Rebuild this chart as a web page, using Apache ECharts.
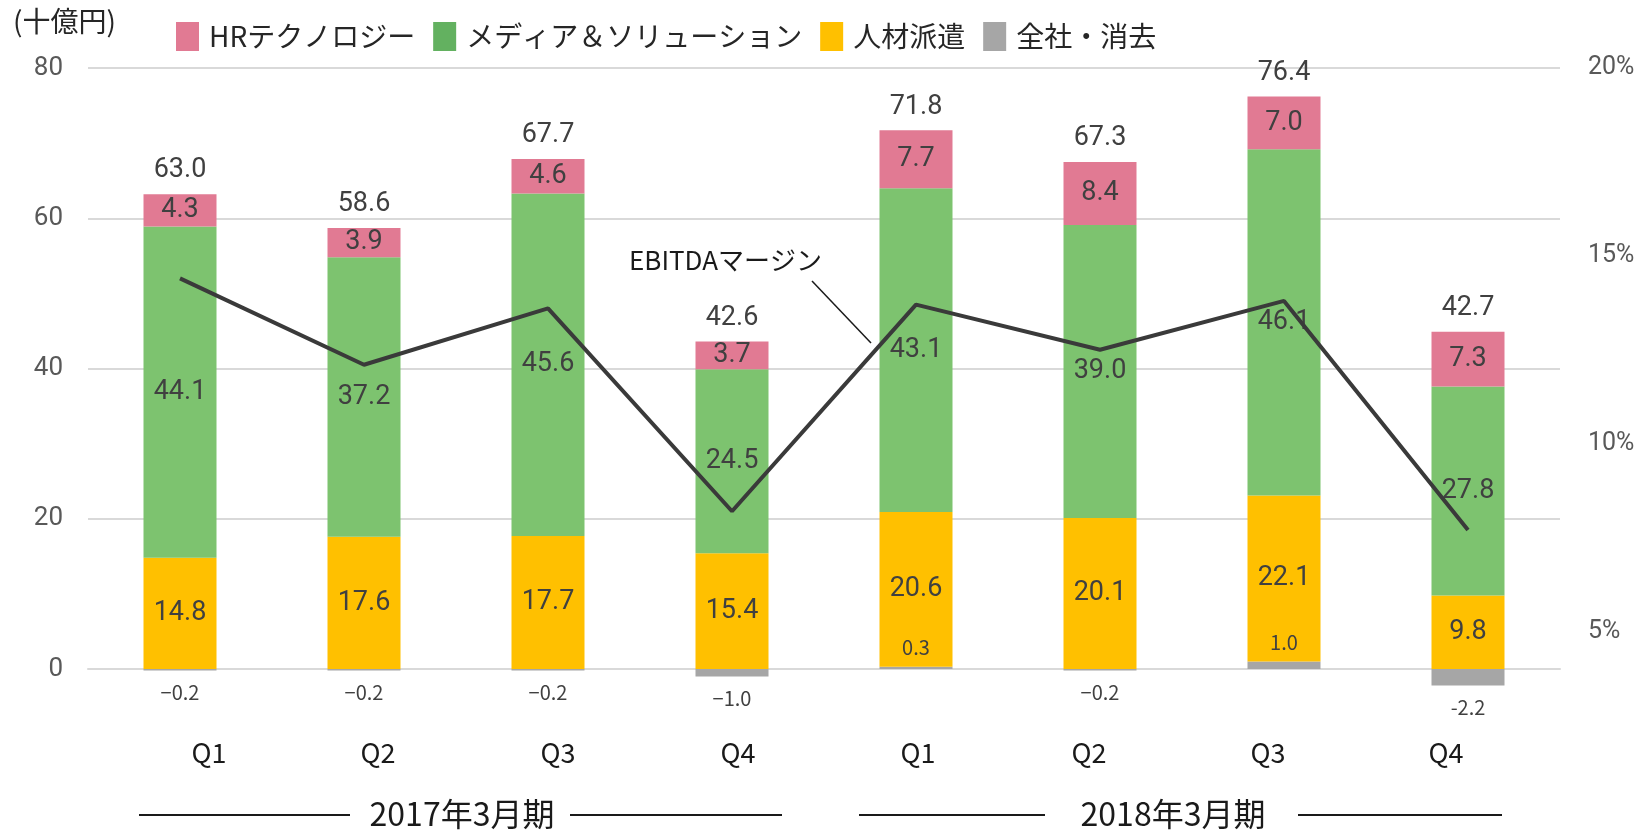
<!DOCTYPE html>
<html>
<head>
<meta charset="utf-8">
<script src="https://cdn.jsdelivr.net/npm/echarts@6/dist/echarts.min.js"></script>
<style>
  html, body { margin: 0; padding: 0; background: #fff; }
  #main { width: 1639px; height: 831px; }
</style>
</head>
<body>
<div id="main"></div>
<script>
  // 四半期
  var quarters = ["Q1", "Q2", "Q3", "Q4", "Q1", "Q2", "Q3", "Q4"];
  var periods = ["2017年3月期", "2018年3月期"];

  // 十億円
  var hrTech = [4.3, 3.9, 4.6, 3.7, 7.7, 8.4, 7.0, 7.3];
  var mediaSol = [44.1, 37.2, 45.6, 24.5, 43.1, 39.0, 46.1, 27.8];
  var staffing = [14.8, 17.6, 17.7, 15.4, 20.6, 20.1, 22.1, 9.8];
  var corporate = [-0.2, -0.2, -0.2, -1.0, 0.3, -0.2, 1.0, -2.2];
  var totals = [63.0, 58.6, 67.7, 42.6, 71.8, 67.3, 76.4, 42.7];

  // EBITDAマージン (%)
  var ebitdaMargin = [14.4, 12.1, 13.6, 8.2, 13.7, 12.5, 13.8, 7.7];

  // ラベルの横ずれ (px)
  var qShift = [29, 14, 10, 6, 2, -11, -16, -22];
  var periodShift = [6, -19];

  var font = "'Noto Sans CJK JP', 'Noto Sans', sans-serif";
  var numFont = "Roboto, 'Noto Sans', sans-serif";

  function shiftRich(shifts, size) {
    var rich = {};
    shifts.forEach(function (s, i) {
      rich["s" + i] = {
        fontSize: size,
        fontFamily: font,
        color: "#1a1a1a",
        padding: s >= 0 ? [0, 0, 0, 2 * s] : [0, -2 * s, 0, 0],
      };
    });
    return rich;
  }

  function shiftFormatter(v, i) {
    return "{s" + i + "|" + v + "}";
  }

  var innerLabel = {
    show: true,
    position: "inside",
    fontSize: 27,
    fontFamily: numFont,
    color: "#404040",
    formatter: function (p) {
      return p.value.toFixed(1);
    },
  };

  var myChart = echarts.init(document.getElementById("main"));

  myChart.setOption({
    backgroundColor: "#ffffff",
    animation: false,
    title: {
      text: "(十億円)",
      left: 8,
      top: 2,
      textStyle: { fontSize: 28, fontWeight: "normal", fontFamily: font, color: "#262626" },
    },
    legend: {
      left: 171,
      top: 17,
      itemWidth: 23,
      itemHeight: 29,
      itemGap: 18,
      icon: "rect",
      textStyle: { fontSize: 28, fontFamily: font, color: "#262626", padding: [0, 0, 0, 5] },
      data: [
        { name: "HRテクノロジー" },
        { name: "メディア＆ソリューション", itemStyle: { color: "#63b160" } },
        { name: "人材派遣" },
        { name: "全社・消去" },
      ],
    },
    grid: { left: 88, right: 79, top: 68, bottom: 162, outerBoundsMode: "none" },
    xAxis: [
      {
        type: "category",
        data: quarters,
        axisLine: { lineStyle: { color: "#d9d9d9", width: 2 } },
        axisTick: { show: false },
        axisLabel: {
          margin: 70,
          fontSize: 27,
          fontFamily: font,
          color: "#1a1a1a",
          formatter: shiftFormatter,
          rich: shiftRich(qShift, 27),
        },
      },
      {
        type: "category",
        position: "bottom",
        data: periods,
        axisLine: { show: false },
        axisTick: { show: false },
        axisLabel: {
          margin: 129,
          fontSize: 32,
          fontFamily: font,
          color: "#1a1a1a",
          formatter: shiftFormatter,
          rich: shiftRich(periodShift, 32),
        },
      },
    ],
    yAxis: [
      {
        type: "value",
        min: 0,
        max: 80,
        interval: 20,
        axisLine: { show: false },
        axisTick: { show: false },
        axisLabel: { margin: 25, fontSize: 26, fontFamily: numFont, color: "#595959" },
        splitLine: { lineStyle: { color: "#d9d9d9", width: 2 } },
      },
      {
        type: "value",
        min: 4,
        max: 20,
        interval: 1,
        axisLine: { show: false },
        axisTick: { show: false },
        splitLine: { show: false },
        axisLabel: {
          margin: 28,
          fontSize: 25,
          fontFamily: numFont,
          color: "#595959",
          formatter: function (v) {
            return v % 5 === 0 ? v + "%" : "";
          },
        },
      },
    ],
    series: [
      {
        name: "全社・消去",
        type: "bar",
        stack: "seg",
        barWidth: 73,
        clip: false,
        itemStyle: { color: "#a6a6a6" },
        label: {
          show: true,
          fontSize: 20,
          fontFamily: font,
          color: "#404040",
          formatter: function (p) {
            var s = p.value.toFixed(1);
            return p.dataIndex < 7 ? s.replace("-", "\u2212") : s;
          },
        },
        data: corporate.map(function (v) {
          return {
            value: v,
            label: v < 0 ? { position: "bottom", distance: 12 } : { position: "top", distance: 9 },
          };
        }),
      },
      {
        name: "人材派遣",
        type: "bar",
        stack: "seg",
        barWidth: 73,
        itemStyle: { color: "#ffc000" },
        label: innerLabel,
        data: staffing,
      },
      {
        name: "メディア＆ソリューション",
        type: "bar",
        stack: "seg",
        barWidth: 73,
        itemStyle: { color: "#7dc36f" },
        label: innerLabel,
        data: mediaSol,
      },
      {
        name: "HRテクノロジー",
        type: "bar",
        stack: "seg",
        barWidth: 73,
        itemStyle: { color: "#e17a93" },
        label: innerLabel,
        data: hrTech,
      },
      {
        name: "合計",
        type: "bar",
        stack: "seg",
        barWidth: 73,
        itemStyle: { color: "transparent" },
        label: {
          show: true,
          position: "top",
          distance: 10,
          fontSize: 27,
          fontFamily: numFont,
          color: "#404040",
          formatter: function (p) {
            return totals[p.dataIndex].toFixed(1);
          },
        },
        data: totals.map(function () {
          return 0;
        }),
      },
      {
        name: "EBITDAマージン",
        type: "line",
        yAxisIndex: 1,
        showSymbol: false,
        symbol: "none",
        z: 5,
        lineStyle: { color: "#3a3a3a", width: 4 },
        data: ebitdaMargin,
      },
    ],
    graphic: [
      {
        type: "text",
        left: 629,
        top: 247,
        style: { text: "EBITDAマージン", fontSize: 26, fontFamily: font, fill: "#1a1a1a" },
      },
      {
        type: "line",
        shape: { x1: 812, y1: 281, x2: 871, y2: 343 },
        style: { stroke: "#1a1a1a", lineWidth: 1.5 },
      },
      { type: "line", shape: { x1: 139, y1: 815, x2: 350, y2: 815 }, style: { stroke: "#1a1a1a", lineWidth: 2 } },
      { type: "line", shape: { x1: 570, y1: 815, x2: 782, y2: 815 }, style: { stroke: "#1a1a1a", lineWidth: 2 } },
      { type: "line", shape: { x1: 859, y1: 815, x2: 1045, y2: 815 }, style: { stroke: "#1a1a1a", lineWidth: 2 } },
      { type: "line", shape: { x1: 1298, y1: 815, x2: 1502, y2: 815 }, style: { stroke: "#1a1a1a", lineWidth: 2 } },
    ],
  });
</script>
</body>
</html>
